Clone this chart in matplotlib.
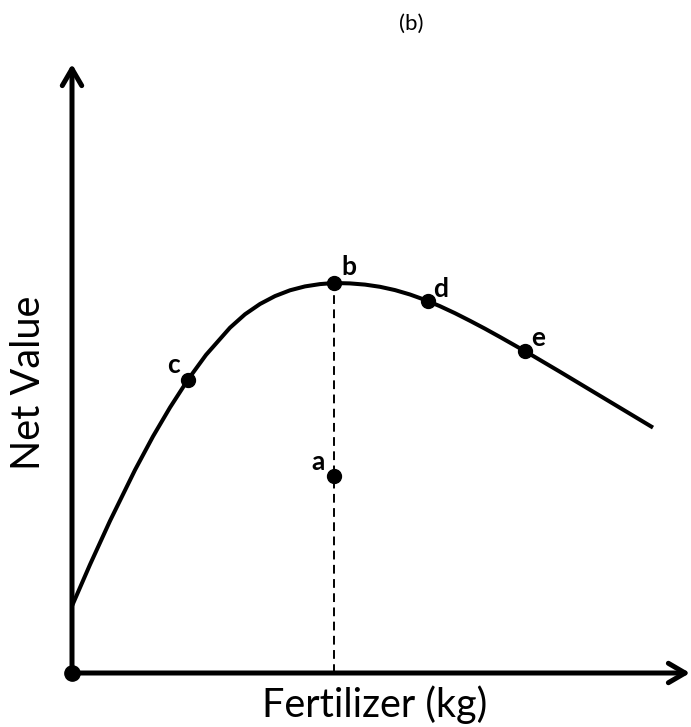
import matplotlib
matplotlib.use("Agg")
import matplotlib.pyplot as plt

# curve of net value against fertilizer (arbitrary units, origin at axes corner)
fert = [0.0, 1.8, 3.8, 6.3, 8.1, 9.8, 11.6, 13.4, 15.8, 17.3, 18.8, 20.3, 21.8,
        23.3, 24.8, 26.2,
        27.8, 29.3, 30.8, 32.3, 33.8, 35.3, 36.8, 38.3, 39.8, 41.3, 42.8, 44.3,
        45.8, 48.8, 51.8, 54.8, 58.1]
net = [6.70, 10.84, 15.21, 20.30, 23.66, 26.55, 29.34, 31.81, 34.53, 35.87, 36.90,
       37.69, 38.27, 38.66, 38.89, 39.00,
       38.96, 38.84, 38.62, 38.29, 37.85, 37.31, 36.68, 35.98, 35.22, 34.43, 33.60, 32.75,
       31.89, 30.12, 28.32, 26.52, 24.54]

# labelled points
pt_names = ["a", "b", "c", "d", "e"]
pt_x = [26.2, 26.2, 11.6, 35.6, 45.3]
pt_y = [19.7, 39.0, 29.34, 37.2, 32.2]

x_end, y_end = 61.8, 60.9

plt.rcParams['font.family'] = ['Lato', 'DejaVu Sans']

fig = plt.figure(figsize=(6.91, 7.27), dpi=100)
ax = fig.add_axes([0, 0, 1, 1])
ax.set_xlim(-7.2, 61.9)
ax.set_ylim(-5.4, 67.3)
ax.axis("off")

# axes with arrows
arrow = dict(arrowstyle="->,head_length=1.2,head_width=0.7", lw=3.6, color="black",
             shrinkA=0, shrinkB=0)
ax.annotate("", xy=(x_end, 0), xytext=(0, 0), arrowprops=arrow)
ax.annotate("", xy=(0, y_end), xytext=(0, 0), arrowprops=arrow)
ax.plot([0], [0], "o", color="black", ms=11, zorder=5)

# curve
ax.plot(fert, net, color="black", lw=2.9, solid_capstyle="butt",
        solid_joinstyle="round", zorder=3)

# dashed line from optimum to x axis
ax.plot([pt_x[1], pt_x[1]], [0, pt_y[1]], color="black", lw=1.4,
        linestyle=(0, (4.5, 2.8)), zorder=2)

ax.plot(pt_x, pt_y, "o", color="black", ms=10, zorder=4)

offsets = {"a": (-1.6, 1.4), "b": (1.5, 1.6), "c": (-1.5, 1.5),
           "d": (1.3, 1.2), "e": (1.3, 1.3)}
for n, x, y in zip(pt_names, pt_x, pt_y):
    dx, dy = offsets[n]
    ax.text(x + dx, y + dy, n, fontsize=19, fontweight="bold",
            ha="center", va="center")

ax.text(33.9, 64.9, "(b)", fontsize=16, ha="center", va="center")
ax.text(30.3, -3.2, "Fertilizer (kg)", fontsize=28.5, ha="center", va="center")
ax.text(-4.4, 29.0, "Net Value", fontsize=28.5, ha="center", va="center",
        rotation=90)

fig.savefig("out.png", dpi=100)
